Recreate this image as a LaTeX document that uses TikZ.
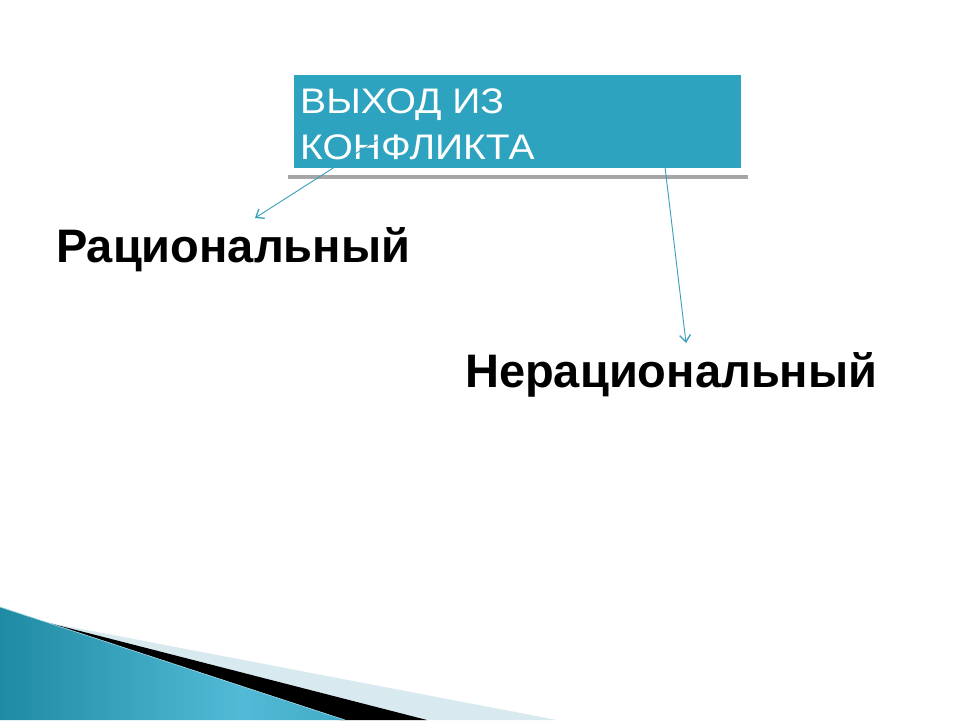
\documentclass[tikz,border=0pt]{standalone}
\usepackage{fontspec}
\setmainfont{Liberation Sans}
\newfontfamily\titlefont[FakeStretch=1.1]{Liberation Sans}
\usetikzlibrary{arrows.meta}
\definecolor{boxteal}{HTML}{2EA3C0}
\definecolor{linkteal}{HTML}{3A9FBA}
\definecolor{rulegray}{HTML}{A6A6A6}
\definecolor{deepteal}{HTML}{0E7A93}
\definecolor{lightteal}{HTML}{52BAD6}
\definecolor{paleblue}{HTML}{D8EAF0}
\pgfdeclarehorizontalshading{bluefan}{100bp}{color(0bp)=(deepteal); color(20bp)=(deepteal!85!lightteal); color(60bp)=(lightteal); color(85bp)=(lightteal!60!deepteal); color(100bp)=(deepteal)}
\tikzset{
  titlebox/.style={fill=boxteal, draw=none},
  titletext/.style={text=white, font=\titlefont\fontsize{35.5}{46}\selectfont, anchor=base west, inner sep=0pt},
  choice/.style={text=black, font=\bfseries\fontsize{47}{50}\selectfont, anchor=base west, inner sep=0pt},
  link/.style={draw=linkteal, line width=0.9pt, -{Straight Barb[length=7pt,width=11pt,line width=1.3pt]}},
}
\begin{document}
\begin{tikzpicture}[x=1pt,y=-1pt]
\useasboundingbox (0,0) rectangle (960,720);
\fill[white] (0,0) rectangle (960,720);
% bottom decoration
\fill[paleblue] (45,622) -- (557,720) -- (420,720) -- cycle;
\fill[black] (45,622) -- (427,720) -- (340,720) -- cycle;
\shade[shading=bluefan] (0,607) -- (345,720) -- (0,720) -- cycle;
\draw[lightteal!50!white, line width=0.6pt] (0,607) -- (345,720);
% title box
\fill[rulegray] (288,175) rectangle (748,179);
\path[titlebox] (294,75) rectangle (741,168);
\node[titletext] (title1) at (300,113) {ВЫХОД ИЗ};
\node[titletext] (title2) at (300,159) {КОНФЛИКТА};
\coordinate (srcL) at (377,140);
\coordinate (srcR) at (665,167);
% options
\node[choice] (rat) at (56,262) {Рациональный};
\node[choice] (irr) at (465,387) {Нерациональный};
\coordinate (tipL) at (255,218);
\coordinate (tipR) at (686,343);
\draw[link] (srcL) -- (tipL);
\draw[link] (srcR) -- (tipR);
\end{tikzpicture}
\end{document}
